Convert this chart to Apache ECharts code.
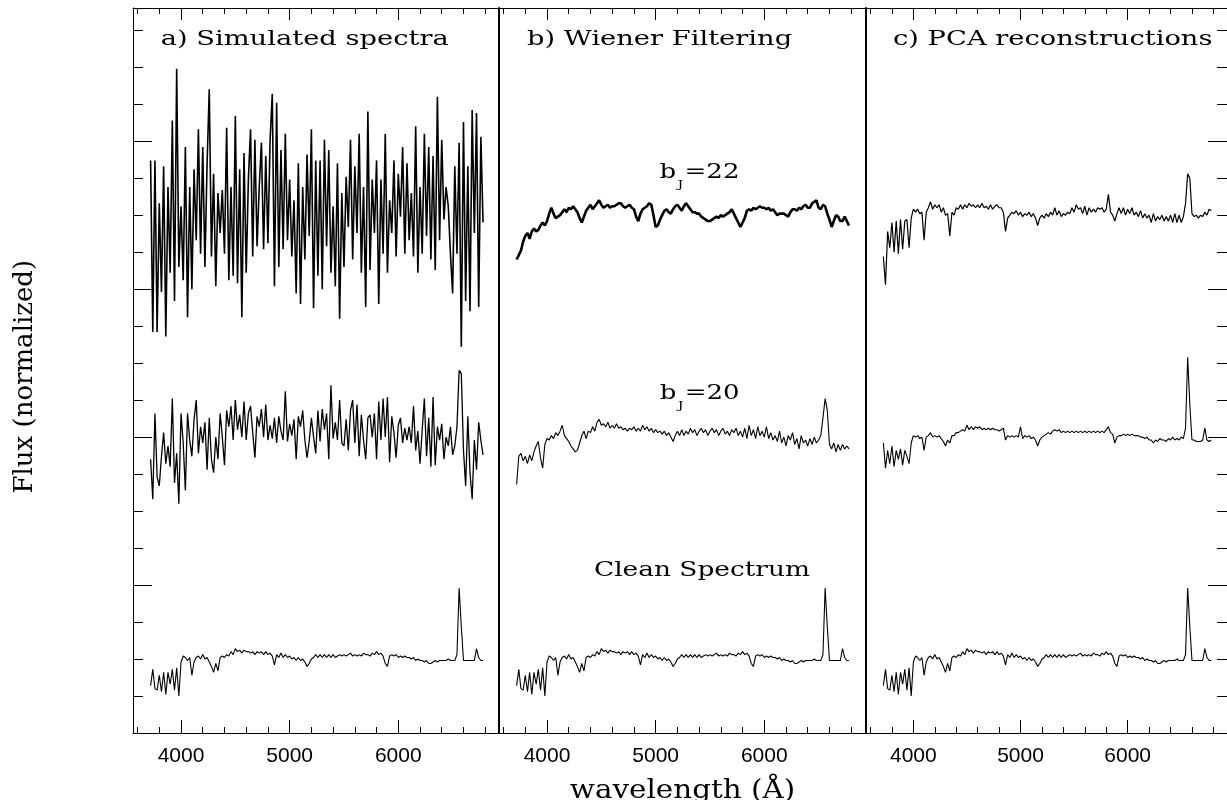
<!DOCTYPE html>
<html><head><meta charset="utf-8">
<script src="https://cdn.jsdelivr.net/npm/echarts@6/dist/echarts.min.js"></script>
<style>html,body{margin:0;padding:0;background:#fff}#c{width:1227px;height:800px}</style>
</head><body><div id="c"></div>
<script>
// ---------- DATA ----------
const wavelength = [
3720,3740,3760,3780,3800,3820,3840,3860,3880,3900,
3920,3940,3960,3980,4000,4020,4040,4060,4080,4100,
4120,4140,4160,4180,4200,4220,4240,4260,4280,4300,
4320,4340,4360,4380,4400,4420,4440,4460,4480,4500,
4520,4540,4560,4580,4600,4620,4640,4660,4680,4700,
4720,4740,4760,4780,4800,4820,4840,4860,4880,4900,
4920,4940,4960,4980,5000,5020,5040,5060,5080,5100,
5120,5140,5160,5180,5200,5220,5240,5260,5280,5300,
5320,5340,5360,5380,5400,5420,5440,5460,5480,5500,
5520,5540,5560,5580,5600,5620,5640,5660,5680,5700,
5720,5740,5760,5780,5800,5820,5840,5860,5880,5900,
5920,5940,5960,5980,6000,6020,6040,6060,6080,6100,
6120,6140,6160,6180,6200,6220,6240,6260,6280,6300,
6320,6340,6360,6380,6400,6420,6440,6460,6480,6500,
6520,6540,6560,6580,6600,6620,6640,6660,6680,6700,
6720,6740,6760,6780];

const cleanSpectrum = [
32,43,30,29,39,28,41,26,41,33,
43,29,44,25,48,52,51,49,51,39,
48,51,52,50,53,50,51,48,45,41,
47,42,51,52,51,53,52,55,53,57,
55,56,54,56,55,55,54,55,53,55,
54,55,53,55,53,54,52,46,53,51,
54,51,53,51,52,50,51,49,51,49,
50,48,45,47,50,51,53,51,53,51,
53,51,53,51,53,51,52,53,52,53,
52,53,54,52,53,52,53,52,54,53,
53,52,54,53,55,53,54,52,47,45,
52,53,52,53,51,52,51,52,51,51,
50,51,49,50,49,49,48,49,47,47,
48,49,48,49,49,49,49,50,49,49,
49,53,98,72,49,49,49,49,49,49,
57,51,49,49];

const simulatedBJ22 = [
387,271,387,271,358,298,383,268,369,311,
414,292,449,315,356,306,396,281,369,300,
381,333,408,324,396,315,385,435,322,378,
302,365,338,367,324,409,306,369,309,417,
304,381,281,392,311,374,408,322,401,329,
369,399,327,390,331,401,432,302,426,315,
394,327,405,333,374,322,360,297,385,290,
369,320,391,336,408,287,387,309,387,300,
401,329,394,311,356,302,385,280,365,315,
376,342,401,320,383,338,405,311,369,288,
420,313,374,338,387,290,374,324,405,311,
360,338,387,322,378,349,396,324,385,333,
365,322,410,311,369,324,405,336,396,320,
390,313,430,333,401,347,369,356,324,297,
383,324,399,261,413,292,383,285,421,338,
419,288,403,345];

const simulatedBJ20 = [
185,158,216,173,167,187,203,182,194,180,
226,169,189,155,216,196,164,216,198,187,
212,225,189,207,196,210,178,213,185,176,
200,185,216,200,181,218,207,221,198,225,
205,215,200,224,198,216,221,203,186,214,
207,219,200,222,198,208,199,213,196,214,
204,198,231,197,209,201,212,185,214,207,
218,198,186,197,213,200,189,218,197,219,
205,216,185,235,199,210,198,225,196,194,
212,191,218,225,196,222,187,215,198,185,
213,215,200,216,185,224,198,226,200,227,
183,214,203,186,208,213,196,206,198,207,
196,221,191,204,182,205,226,187,213,180,
227,181,207,198,209,185,200,194,207,188,
194,207,245,243,191,167,214,176,158,198,
178,210,198,188];

const wienerBJ22 = [
320,323,326,332,336,338,334,339,341,339,
340,343,345,343,346,351,355,351,348,349,
350,352,354,352,355,354,356,354,352,348,
345,349,353,355,357,354,356,358,360,357,
355,356,357,355,356,356,357,358,358,356,
355,356,357,355,354,349,346,351,354,355,
356,358,357,350,342,343,347,350,353,354,
352,351,354,356,357,355,353,356,358,356,
354,352,352,351,351,349,348,347,346,346,
347,348,349,348,350,349,350,351,352,354,
351,348,345,342,345,348,353,354,353,355,
354,355,356,355,355,354,355,353,354,352,
350,351,351,351,350,349,352,354,354,353,
355,354,356,357,355,355,358,359,360,355,
354,357,356,351,347,342,346,350,349,346,
346,349,346,343];

const wienerBJ20 = [
168,187,189,184,187,182,188,184,190,194,
197,186,179,195,199,198,201,199,203,201,
204,208,201,199,197,194,192,190,191,196,
201,204,199,204,203,207,204,210,212,208,
209,207,210,206,208,206,209,206,207,205,
206,204,206,205,207,204,206,204,208,205,
207,204,206,203,205,203,204,202,204,201,
203,200,197,201,204,201,205,201,204,202,
206,203,205,201,204,206,203,205,201,204,
206,203,205,201,204,206,202,204,201,205,
203,206,201,204,200,206,199,208,201,205,
199,207,201,204,200,207,199,203,198,201,
197,204,196,200,194,201,198,203,195,199,
192,201,196,198,194,199,195,200,196,198,
201,213,226,218,195,192,196,190,195,191,
195,192,194,192];

const pcaBJ22 = [
322,303,339,328,345,325,346,324,347,327,
346,347,328,348,354,352,354,351,352,333,
352,355,359,354,357,355,357,352,355,350,
351,336,352,350,355,354,357,354,357,355,
358,356,357,355,357,355,358,355,356,354,
357,354,356,357,355,355,352,339,348,350,
352,351,353,350,352,349,351,350,352,349,
351,348,343,348,350,348,351,349,352,350,
355,350,353,349,351,350,352,351,355,352,
357,354,355,351,356,350,355,352,354,352,
355,354,355,352,354,364,352,350,346,351,
355,351,355,350,354,351,355,350,352,349,
353,348,351,348,350,345,351,346,349,347,
350,346,349,346,350,345,351,345,350,345,
349,358,378,375,351,349,350,348,350,349,
352,350,354,353];

const pcaBJ20 = [
196,179,191,182,194,180,191,185,192,181,
191,187,182,196,201,200,201,199,200,191,
200,201,203,200,201,200,201,199,197,194,
198,196,201,201,203,203,204,205,204,208,
205,207,205,207,206,207,205,206,205,206,
205,206,205,205,204,205,206,198,201,200,
201,200,201,200,207,199,201,200,201,199,
200,198,194,198,200,201,202,203,202,204,
205,204,205,203,204,203,204,203,204,203,
204,203,204,203,204,203,204,203,204,203,
204,203,204,203,205,207,203,202,196,200,
201,201,202,201,202,201,202,201,201,201,
200,200,199,200,198,198,196,198,197,199,
198,198,197,199,198,200,198,199,198,200,
199,206,254,222,198,198,197,197,197,198,
206,198,197,198];

const xMajorTicks = [4000, 5000, 6000];
const xMinorTicks = [3600,3800,4000,4200,4400,4600,4800,5000,5200,5400,5600,5800,6000,6200,6400,6600,6800];
const yMajorTicks = [100, 200, 300, 400];
const yMinorTicks = [25,50,75,100,125,150,175,200,225,250,275,300,325,350,375,400,425,450,475];
const panelTitles = ['a) Simulated spectra', 'b) Wiener Filtering', 'c) PCA reconstructions'];
const curveLabels = ['{m|b}{s|J}{m|=22}', '{m|b}{s|J}{m|=20}', 'Clean Spectrum'];
const xAxisTitle = 'wavelength (Å)';
const yAxisTitle = 'Flux (normalized)';

// ---------- CHART ----------
const X_MIN = 3558, X_MAX = 6927, Y_MIN = 0, Y_MAX = 490;
const BLACK = '#000';
const lefts = [133, 499, 866];
const grid = lefts.map(l => ({left: l, top: 8, width: 366, height: 725}));

const xAxis = [];
lefts.forEach((l, g) => {
  const base = {type: 'value', gridIndex: g, min: X_MIN, max: X_MAX, splitLine: {show: false}, minorTick: {show: false}};
  xAxis.push(Object.assign({}, base, {position: 'bottom',
    axisLine: {show: true, onZero: false, lineStyle: {color: BLACK, width: 1}},
    axisTick: {show: true, inside: true, length: 13, customValues: xMajorTicks, lineStyle: {color: BLACK, width: 1}},
    axisLabel: {show: true, customValues: xMajorTicks, fontSize: 21, fontFamily: 'Liberation Sans', color: BLACK, margin: 13,
                formatter: v => String(v)}}));
  xAxis.push(Object.assign({}, base, {position: 'bottom',
    axisLine: {show: false, onZero: false},
    axisTick: {show: true, inside: true, length: 6, customValues: xMinorTicks, lineStyle: {color: BLACK, width: 1}},
    axisLabel: {show: false}}));
  xAxis.push(Object.assign({}, base, {position: 'top',
    axisLine: {show: true, onZero: false, lineStyle: {color: BLACK, width: 1}},
    axisTick: {show: true, inside: true, length: 12, customValues: xMajorTicks, lineStyle: {color: BLACK, width: 1}},
    axisLabel: {show: false}}));
  xAxis.push(Object.assign({}, base, {position: 'top',
    axisLine: {show: false, onZero: false},
    axisTick: {show: true, inside: true, length: 6, customValues: xMinorTicks, lineStyle: {color: BLACK, width: 1}},
    axisLabel: {show: false}}));
});

const yBase = {type: 'value', min: Y_MIN, max: Y_MAX, splitLine: {show: false}, axisLabel: {show: false}};
const yAxis = [
  Object.assign({}, yBase, {gridIndex: 0, position: 'left',
    axisLine: {show: true, onZero: false, lineStyle: {color: BLACK, width: 1}},
    axisTick: {show: true, inside: true, length: 19, customValues: yMajorTicks, lineStyle: {color: BLACK, width: 1}}}),
  Object.assign({}, yBase, {gridIndex: 0, position: 'left',
    axisLine: {show: false, onZero: false},
    axisTick: {show: true, inside: true, length: 10, customValues: yMinorTicks, lineStyle: {color: BLACK, width: 1}}}),
  Object.assign({}, yBase, {gridIndex: 1, position: 'left',
    axisLine: {show: true, onZero: false, lineStyle: {color: BLACK, width: 2}},
    axisTick: {show: false}}),
  Object.assign({}, yBase, {gridIndex: 2, position: 'left',
    axisLine: {show: true, onZero: false, lineStyle: {color: BLACK, width: 2}},
    axisTick: {show: false}}),
  Object.assign({}, yBase, {gridIndex: 2, position: 'right',
    axisLine: {show: true, onZero: false, lineStyle: {color: BLACK, width: 1}},
    axisTick: {show: true, inside: true, length: 19, customValues: yMajorTicks, lineStyle: {color: BLACK, width: 1}}}),
  Object.assign({}, yBase, {gridIndex: 2, position: 'right',
    axisLine: {show: false, onZero: false},
    axisTick: {show: true, inside: true, length: 10, customValues: yMinorTicks, lineStyle: {color: BLACK, width: 1}}})
];

function pairs(values) { return wavelength.map((w, i) => [w, values[i]]); }
function line(name, values, g, yIdx, width) {
  return {name, type: 'line', xAxisIndex: g * 4, yAxisIndex: yIdx, data: pairs(values),
    showSymbol: false, symbol: 'none', silent: true, clip: true,
    lineStyle: {color: BLACK, width: width}, emphasis: {disabled: true}};
}
const series = [
  line('Simulated bJ=22', simulatedBJ22, 0, 0, 1.6),
  line('Simulated bJ=20', simulatedBJ20, 0, 0, 1.3),
  line('Clean spectrum', cleanSpectrum, 0, 0, 1.1),
  line('Wiener bJ=22', wienerBJ22, 1, 2, 2.6),
  line('Wiener bJ=20', wienerBJ20, 1, 2, 1.1),
  line('Clean spectrum', cleanSpectrum, 1, 2, 1.1),
  line('PCA bJ=22', pcaBJ22, 2, 3, 1.2),
  line('PCA bJ=20', pcaBJ20, 2, 3, 1.1),
  line('Clean spectrum', cleanSpectrum, 2, 3, 1.1)
];

const SERIF = '"DejaVu Serif", serif';
function txt(text, x, y, size, sx, align, extra) {
  return Object.assign({type: 'text', x: x, y: y, scaleX: sx, silent: true,
    style: {text: text, fontSize: size, fontFamily: SERIF, fill: BLACK, align: align, verticalAlign: 'middle'}}, extra || {});
}
const subRich = {m: {fontSize: 20, fontFamily: SERIF, color: BLACK},
                 s: {fontSize: 11, fontFamily: SERIF, color: BLACK, padding: [24, 1, 0, 1]}};
const graphic = [
  txt(panelTitles[0], 160.7, 39.5, 21, 1.3, 'left'),
  txt(panelTitles[1], 527, 39.5, 21, 1.3, 'left'),
  txt(panelTitles[2], 893, 39.5, 21, 1.3, 'left'),
  {type: 'text', x: 699.5, y: 173, scaleX: 1.3, silent: true,
   style: {text: curveLabels[0], rich: subRich, fill: BLACK, align: 'center', verticalAlign: 'middle'}},
  {type: 'text', x: 699.7, y: 393.7, scaleX: 1.3, silent: true,
   style: {text: curveLabels[1], rich: subRich, fill: BLACK, align: 'center', verticalAlign: 'middle'}},
  txt(curveLabels[2], 702, 571, 20, 1.32, 'center'),
  txt(xAxisTitle, 682.5, 791, 26, 1.13, 'center'),
  txt(yAxisTitle, 25, 376.7, 26, 1, 'center', {rotation: Math.PI / 2})
];

const chart = echarts.init(document.getElementById('c'), null, {renderer: 'canvas'});
chart.setOption({animation: false, backgroundColor: '#fff', grid, xAxis, yAxis, series, graphic});
</script></body></html>
